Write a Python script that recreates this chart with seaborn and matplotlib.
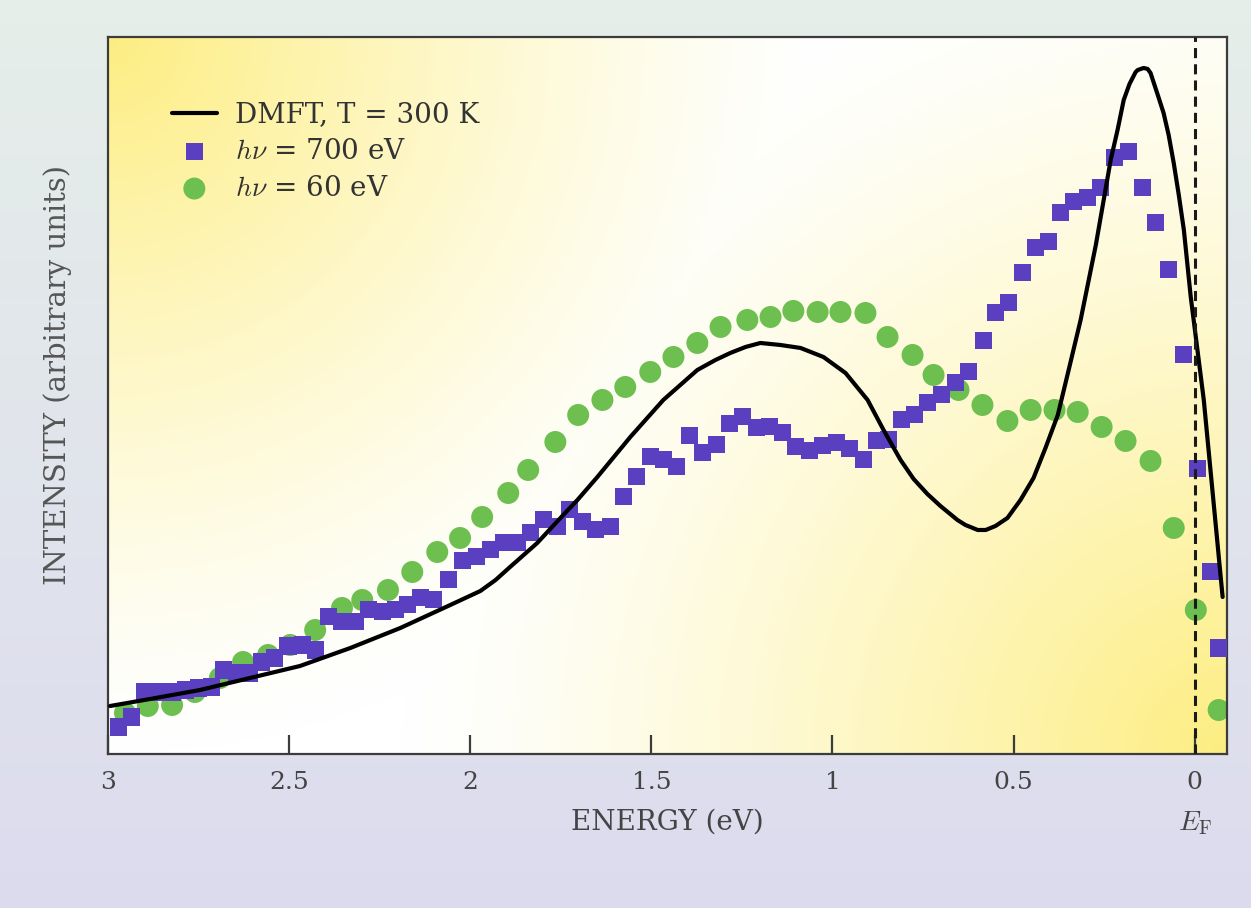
import numpy as np
import matplotlib
matplotlib.use("Agg")
import matplotlib.pyplot as plt
import seaborn as sns

# Datos (energía en eV, intensidad en unidades arbitrarias)
e_dmft = [2.994, 2.884, 2.746, 2.608, 2.470, 2.331, 2.193, 2.055, 1.972, 1.930,
          1.890, 1.815, 1.751, 1.704, 1.649, 1.558, 1.467, 1.373, 1.323, 1.282,
          1.240, 1.199, 1.144, 1.088, 1.025, 0.964, 0.903, 0.859, 0.812, 0.776,
          0.738, 0.702, 0.655, 0.633, 0.599, 0.577, 0.550, 0.517, 0.481, 0.445,
          0.412, 0.378, 0.348, 0.315, 0.273, 0.232, 0.213, 0.196, 0.180, 0.163,
          0.157, 0.141, 0.130, 0.122, 0.102, 0.086, 0.072, 0.058, 0.044, 0.030,
          0.011, -0.025, -0.077]
i_dmft = [0.48, 0.55, 0.64, 0.76, 0.88, 1.06, 1.26, 1.49, 1.63, 1.74,
          1.87, 2.11, 2.36, 2.54, 2.77, 3.17, 3.54, 3.84, 3.94, 4.01,
          4.07, 4.11, 4.09, 4.06, 3.97, 3.81, 3.54, 3.24, 2.94, 2.75,
          2.60, 2.48, 2.34, 2.29, 2.24, 2.24, 2.28, 2.36, 2.54, 2.76,
          3.06, 3.39, 3.84, 4.34, 5.09, 5.94, 6.24, 6.54, 6.70, 6.82,
          6.84, 6.86, 6.85, 6.81, 6.59, 6.41, 6.19, 5.91, 5.59, 5.24,
          4.57, 3.54, 1.57]

e_700 = [2.972, 2.936, 2.898, 2.862, 2.823, 2.785, 2.749, 2.713, 2.682, 2.644,
         2.608, 2.575, 2.539, 2.503, 2.464, 2.428, 2.392, 2.354, 2.318, 2.282,
         2.243, 2.207, 2.174, 2.138, 2.102, 2.061, 2.022, 1.983, 1.945, 1.909,
         1.870, 1.834, 1.798, 1.760, 1.727, 1.691, 1.655, 1.613, 1.577, 1.541,
         1.503, 1.467, 1.431, 1.395, 1.359, 1.320, 1.285, 1.249, 1.210, 1.174,
         1.138, 1.102, 1.064, 1.028, 0.989, 0.953, 0.914, 0.878, 0.845, 0.809,
         0.773, 0.738, 0.699, 0.660, 0.624, 0.583, 0.550, 0.514, 0.475, 0.439,
         0.403, 0.370, 0.334, 0.296, 0.260, 0.221, 0.182, 0.144, 0.108, 0.072,
         0.030, -0.008, -0.044, -0.066]
i_700 = [0.27, 0.37, 0.62, 0.62, 0.62, 0.64, 0.66, 0.67, 0.84, 0.81,
         0.81, 0.92, 0.96, 1.08, 1.09, 1.04, 1.37, 1.32, 1.32, 1.44,
         1.42, 1.44, 1.49, 1.56, 1.54, 1.74, 1.93, 1.97, 2.04, 2.11,
         2.11, 2.21, 2.34, 2.27, 2.44, 2.32, 2.24, 2.27, 2.57, 2.77,
         2.97, 2.94, 2.87, 3.18, 3.01, 3.09, 3.30, 3.37, 3.26, 3.27,
         3.21, 3.07, 3.03, 3.08, 3.11, 3.05, 2.94, 3.13, 3.14, 3.34,
         3.39, 3.51, 3.59, 3.71, 3.82, 4.13, 4.41, 4.51, 4.81, 5.06,
         5.12, 5.41, 5.52, 5.56, 5.66, 5.96, 6.02, 5.66, 5.31, 4.84,
         3.99, 2.85, 1.82, 1.06]

e_60 = [2.953, 2.890, 2.823, 2.760, 2.691, 2.627, 2.558, 2.497, 2.428, 2.354,
        2.298, 2.227, 2.160, 2.091, 2.028, 1.967, 1.895, 1.840, 1.765, 1.702,
        1.635, 1.572, 1.503, 1.439, 1.373, 1.309, 1.235, 1.171, 1.108, 1.041,
        0.978, 0.909, 0.848, 0.779, 0.721, 0.652, 0.586, 0.517, 0.453, 0.387,
        0.323, 0.257, 0.191, 0.122, 0.058, -0.003, -0.066]
i_60 = [0.41, 0.48, 0.49, 0.62, 0.76, 0.92, 0.99, 1.09, 1.24, 1.46,
        1.54, 1.64, 1.82, 2.02, 2.16, 2.37, 2.61, 2.84, 3.12, 3.39,
        3.54, 3.67, 3.82, 3.97, 4.11, 4.27, 4.34, 4.37, 4.43, 4.42,
        4.42, 4.41, 4.17, 3.99, 3.79, 3.64, 3.49, 3.33, 3.44, 3.44,
        3.42, 3.27, 3.13, 2.93, 2.26, 1.44, 0.44]

xticks = [3, 2.5, 2, 1.5, 1, 0.5, 0]
xtick_labels = ["3", "2.5", "2", "1.5", "1", "0.5", "0"]

morado = "#5a3fc0"
verde = "#6dbf4f"
gris = "#3c3c3c"

sns.set_style("white")
plt.rcParams["font.family"] = ["DejaVu Serif"]
plt.rcParams["mathtext.fontset"] = "cm"

fig = plt.figure(figsize=(12.51, 9.08), dpi=100)

# Fondo degradado de la figura
fondo = fig.add_axes([0, 0, 1, 1], zorder=-10)
t = np.linspace(0, 1, 200)[:, None, None]
arriba = np.array([0.90, 0.935, 0.915])
abajo = np.array([0.865, 0.86, 0.935])
img = arriba * (1 - t) + abajo * t
fondo.imshow(np.repeat(img, 2, axis=1), aspect="auto", extent=(0, 1, 0, 1))
fondo.axis("off")

ax = fig.add_axes([0.0863, 0.1696, 0.8942, 0.7897])
xmin, xmax, ymin, ymax = 3.0, -0.088, 0.0, 7.17

# Degradado amarillo del área de datos
u = np.linspace(0, 1, 400)[None, :]
v = np.linspace(1, 0, 300)[:, None]
w1 = np.clip(1 - np.hypot(u * 1.56, 1 - v) / 1.0, 0, 1) ** 1.3
w2 = np.clip(1 - np.hypot((1 - u) * 1.56, v) / 1.15, 0, 1) ** 1.3
w = np.maximum(w1, w2)[..., None] * 0.85
amarillo = np.array([0.99, 0.92, 0.42])
bg = np.ones(3) * (1 - w) + amarillo * w
ax.imshow(bg, aspect="auto", extent=(xmin, xmax, ymin, ymax), zorder=0)

sns.scatterplot(x=e_60, y=i_60, marker="o", s=250, color=verde, edgecolor="none",
                ax=ax, label=r"$h\nu$ = 60 eV", zorder=2)
sns.scatterplot(x=e_700, y=i_700, marker="s", s=150, color=morado, edgecolor="none",
                ax=ax, label=r"$h\nu$ = 700 eV", zorder=3)
sns.lineplot(x=e_dmft, y=i_dmft, sort=False, color="black", linewidth=3,
             ax=ax, label="DMFT, T = 300 K", zorder=4)

ax.axvline(0, color="#1a1a1a", linestyle=(0, (3.3, 2)), linewidth=2.2, zorder=5)

ax.set_xlim(xmin, xmax)
ax.set_ylim(ymin, ymax)
ax.set_xticks(xticks)
ax.set_xticklabels(xtick_labels)
ax.set_yticks([])
ax.tick_params(axis="x", direction="in", length=14, width=1.6, color=gris,
               labelsize=18, labelcolor="#444444", pad=12, bottom=True)
for s in ax.spines.values():
    s.set_visible(True)
    s.set_color(gris)
    s.set_linewidth(1.6)

ax.set_xlabel("ENERGY (eV)", fontsize=20, color="#444444", labelpad=11)
ax.text(0, -0.097, r"$E_{\rm F}$", transform=ax.get_xaxis_transform(),
        ha="center", va="center", fontsize=20, color="#444444")
fig.text(0.046, 0.587, "INTENSITY (arbitrary units)", rotation=90, ha="center",
         va="center", fontsize=21, color="#555555")

h, l = ax.get_legend_handles_labels()
orden = [2, 1, 0]
ax.legend([h[i] for i in orden], [l[i] for i in orden], loc="upper left",
          bbox_to_anchor=(0.035, 0.945), frameon=False, fontsize=20,
          handlelength=1.6, handletextpad=0.68, labelspacing=0.35,
          labelcolor="#333333")

fig.savefig("out.png", dpi=100)
